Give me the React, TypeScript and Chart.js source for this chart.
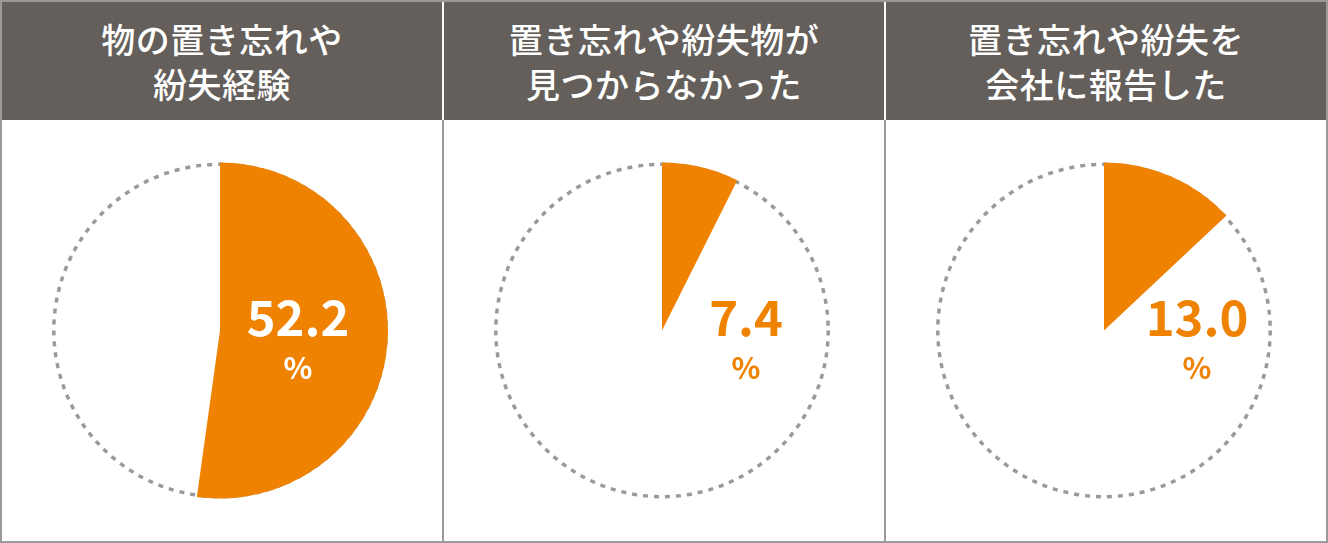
import React, { useEffect, useRef } from "react";
import { Chart, registerables } from "chart.js";

Chart.register(...registerables);

const titles: string[][] = [
  ["物の置き忘れや", "紛失経験"],
  ["置き忘れや紛失物が", "見つからなかった"],
  ["置き忘れや紛失を", "会社に報告した"],
];
const values: number[] = [52.2, 7.4, 13.0];
const valueLabels: string[] = ["52.2", "7.4", "13.0"];
const labelColors: string[] = ["#ffffff", "#ef8200", "#ef8200"];
const labelOffsets: number[] = [78, 84, 93];

const ORANGE = "#ef8200";
const HEADER = "#645f5b";
const BORDER = "#9a9a9a";
const FONT = '"Noto Sans CJK JP", "Noto Sans", sans-serif';
const RADIUS = 168;

function PieCanvas({ idx }: { idx: number }) {
  const ref = useRef<HTMLCanvasElement>(null);
  useEffect(() => {
    const canvas = ref.current!;
    const ringPlugin = {
      id: "ring",
      beforeDatasetsDraw(chart: any) {
        const meta = chart.getDatasetMeta(0);
        const arc = meta.data[0];
        const { x, y } = arc;
        const r = arc.outerRadius;
        const ctx = chart.ctx;
        ctx.save();
        ctx.beginPath();
        ctx.setLineDash([5, 6]);
        ctx.lineWidth = 3.5;
        ctx.strokeStyle = BORDER;
        ctx.arc(x, y, r - 1.8, 0, Math.PI * 2);
        ctx.stroke();
        ctx.restore();
      },
      afterDatasetsDraw(chart: any) {
        const meta = chart.getDatasetMeta(0);
        const arc = meta.data[0];
        const { x, y } = arc;
        const ctx = chart.ctx;
        ctx.save();
        ctx.fillStyle = labelColors[idx];
        ctx.textAlign = "center";
        ctx.textBaseline = "alphabetic";
        ctx.font = `bold 49px ${FONT}`;
        ctx.fillText(valueLabels[idx], x + labelOffsets[idx], y + 5);
        ctx.font = `bold 30px ${FONT}`;
        ctx.fillText("%", x + labelOffsets[idx], y + 48);
        ctx.restore();
      },
    };
    const chart = new Chart(canvas, {
      type: "pie",
      data: {
        labels: ["yes", "rest"],
        datasets: [
          {
            data: [values[idx], 100 - values[idx]],
            backgroundColor: [ORANGE, "rgba(0,0,0,0)"],
            borderWidth: 0,
            radius: RADIUS,
          } as any,
        ],
      },
      options: {
        responsive: false,
        animation: false,
        layout: { padding: { right: 4 } },
        plugins: {
          legend: { display: false },
          tooltip: { enabled: false },
        },
      },
      plugins: [ringPlugin],
    });
    return () => chart.destroy();
  }, [idx]);
  return <canvas ref={ref} width={440} height={421} style={{ display: "block" }} />;
}

export default function App() {
  useEffect(() => {
    document.body.style.margin = "0";
  }, []);
  const colLeft = [2, 444, 886];
  return (
    <div
      style={{
        position: "relative",
        width: 1328,
        height: 543,
        boxSizing: "border-box",
        background: "#fff",
        fontFamily: FONT,
      }}
    >
      <div
        style={{
          position: "absolute",
          inset: 0,
          border: `2px solid ${BORDER}`,
          boxSizing: "border-box",
        }}
      />
      {[442, 884].map((x) => (
        <div
          key={x}
          style={{ position: "absolute", left: x, top: 120, width: 2, height: 421, background: BORDER }}
        />
      ))}
      {colLeft.map((left, i) => (
        <div key={i} style={{ position: "absolute", left, top: 2, width: 440, height: 539 }}>
          <div
            style={{
              height: 118,
              background: HEADER,
              color: "#fff",
              display: "flex",
              flexDirection: "column",
              justifyContent: "center",
              alignItems: "center",
              fontSize: 34,
              lineHeight: "45px",
              fontWeight: 500,
              letterSpacing: 0.5,
            }}
          >
            {titles[i].map((t, j) => (
              <div key={j}>{t}</div>
            ))}
          </div>
          <PieCanvas idx={i} />
        </div>
      ))}
    </div>
  );
}
